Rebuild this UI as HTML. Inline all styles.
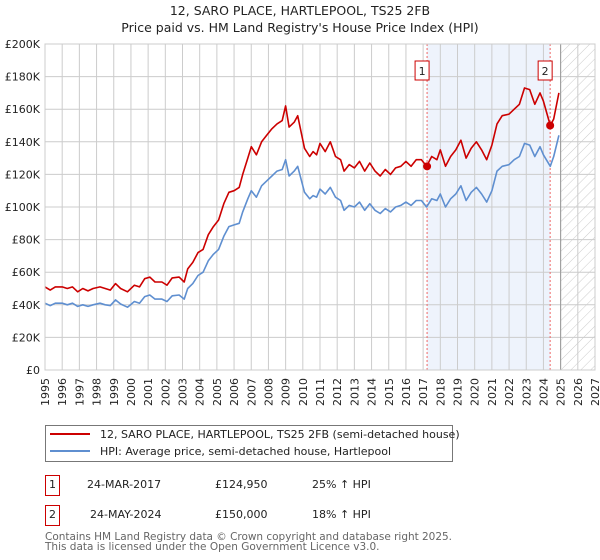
<!DOCTYPE html>
<html><head><meta charset="utf-8"><style>
body{margin:0;background:#fff;}
svg{display:block;font-family:"DejaVu Sans","Liberation Sans",sans-serif;}
</style></head><body>
<svg id="chart" width="600" height="560" viewBox="0 0 600 560" xmlns="http://www.w3.org/2000/svg">
<defs>
<pattern id="hatch" patternUnits="userSpaceOnUse" width="7" height="7" patternTransform="rotate(45)"><line x1="0" y1="0" x2="0" y2="7" stroke="#ccc" stroke-width="1"/></pattern>
</defs>
<text x="300" y="15" text-anchor="middle" font-size="12.5" fill="#222">12, SARO PLACE, HARTLEPOOL, TS25 2FB</text>
<text x="300" y="32" text-anchor="middle" font-size="12.5" fill="#222">Price paid vs. HM Land Registry's House Price Index (HPI)</text>
<g id="plot"></g>
<g>
<rect x="45.5" y="425.5" width="407" height="36" fill="#fff" stroke="#777"/>
<line x1="50" y1="434" x2="90" y2="434" stroke="#cc0000" stroke-width="2"/>
<text x="100" y="438" font-size="11" fill="#222">12, SARO PLACE, HARTLEPOOL, TS25 2FB (semi-detached house)</text>
<line x1="50" y1="451" x2="90" y2="451" stroke="#5f8fd0" stroke-width="2"/>
<text x="100" y="455" font-size="11" fill="#222">HPI: Average price, semi-detached house, Hartlepool</text>
</g>
<g font-size="11" fill="#222">
<rect x="45.5" y="475.5" width="14" height="20" fill="#fff" stroke="#cc0000"/>
<text x="52.5" y="488" text-anchor="middle">1</text>
<text x="87" y="488">24-MAR-2017</text>
<text x="215" y="488">£124,950</text>
<text x="312" y="488">25% ↑ HPI</text>
<rect x="45.5" y="505.5" width="14" height="20" fill="#fff" stroke="#cc0000"/>
<text x="52.5" y="518" text-anchor="middle">2</text>
<text x="90" y="518">24-MAY-2024</text>
<text x="215" y="518">£150,000</text>
<text x="312" y="518">18% ↑ HPI</text>
</g>
<text x="45" y="540" font-size="10.5" fill="#666" textLength="407">Contains HM Land Registry data © Crown copyright and database right 2025.</text>
<text x="45" y="550" font-size="10.5" fill="#666">This data is licensed under the Open Government Licence v3.0.</text>
</svg>
<script>
const years=[1995.0,1995.3,1995.6,1996.0,1996.3,1996.6,1996.9,1997.2,1997.5,1997.8,1998.2,1998.5,1998.8,1999.1,1999.4,1999.8,2000.2,2000.5,2000.8,2001.1,2001.4,2001.8,2002.1,2002.4,2002.8,2003.1,2003.3,2003.6,2003.9,2004.2,2004.5,2004.8,2005.1,2005.4,2005.7,2006.0,2006.3,2006.5,2006.8,2007.0,2007.3,2007.6,2007.9,2008.2,2008.5,2008.8,2009.0,2009.2,2009.5,2009.7,2009.9,2010.1,2010.4,2010.6,2010.8,2011.0,2011.3,2011.6,2011.9,2012.2,2012.4,2012.7,2013.0,2013.3,2013.6,2013.9,2014.2,2014.5,2014.8,2015.1,2015.4,2015.7,2016.0,2016.3,2016.6,2016.9,2017.2,2017.5,2017.8,2018.0,2018.3,2018.6,2018.9,2019.2,2019.5,2019.8,2020.1,2020.4,2020.7,2021.0,2021.3,2021.6,2022.0,2022.3,2022.6,2022.9,2023.2,2023.5,2023.8,2024.0,2024.4,2024.6,2024.9];
const hpi=[41,39.5,41,41,40,41,39,40,39,40,41,40,39.5,43,40.5,38.5,42,41,45,46,43.5,43.5,42,45.5,46,43.5,50,53,58,60,67,71,74,82,88,89,90,97,105,110,106,113,116,119,122,123,129,119,122,125,117,109,105,107,106,111,108,112,106,104,98,101,100,103,98,102,98,96,99,97,100,101,103,101,104,104,100,105,104,108,100,105,108,113,104,109,112,108,103,110,122,125,126,129,131,139,138,131,137,132,125,131,144];
const price=[51,49,51,51,50,51,48,50,48.5,50,51,50,49,53,50,48,52,51,56,57,54,54,52,56.5,57,54,62,66,72,74,83,88,92,102,109,110,112,120,130,137,132,140,144,148,151,153,162,149,152,156,146,136,131,134,132,139,134,140,131,129,122,126,124,128,122,127,122,119,123,120,124,125,128,125,129,129,125,131,129,135,125,131,135,141,130,136,140,135,129,138,151,156,157,160,163,173,172,163,170,165,150,154,170];
const yTicks=[0,20,40,60,80,100,120,140,160,180,200];
const xTicks=[1995,1996,1997,1998,1999,2000,2001,2002,2003,2004,2005,2006,2007,2008,2009,2010,2011,2012,2013,2014,2015,2016,2017,2018,2019,2020,2021,2022,2023,2024,2025,2026,2027];
const saleYears=[2017.23,2024.39];
const salePrices=[124.95,150];
const saleLabels=["1","2"];
const dataEnd=2025.0;
const L=45,R=595,T=44,B=370;
const X=y=>L+(y-1995)/(2027-1995)*(R-L);
const Y=v=>B-v/200*(B-T);
const NS="http://www.w3.org/2000/svg";
const g=document.getElementById('plot');
function mk(tag,attrs,parent){const e=document.createElementNS(NS,tag);for(const k in attrs)e.setAttribute(k,attrs[k]);(parent||g).appendChild(e);return e;}
let sh=mk('rect',{x:X(saleYears[0]),y:T,width:X(saleYears[1])-X(saleYears[0]),height:B-T,fill:'#eef3fc'});


let hz=mk('rect',{x:X(dataEnd),y:T,width:R-X(dataEnd),height:B-T,fill:'url(#hatch)'});


xTicks.forEach(t=>{
 const l=mk('line',{x1:X(t),x2:X(t),y1:T,y2:B,stroke:'#ccc','stroke-width':1});
 
 
 const xx=X(t)+4,yy=378;
 const tx=mk('text',{x:xx,y:yy,'text-anchor':'end','font-size':11,fill:'#222',transform:`rotate(-90 ${xx} ${yy})`});
 tx.textContent=t;
 
 
});
yTicks.forEach(t=>{
 const l=mk('line',{x1:L,x2:R,y1:Y(t),y2:Y(t),stroke:'#ccc','stroke-width':1});
 
 
 const tx=mk('text',{x:40,y:Y(t)+4,'text-anchor':'end','font-size':11,fill:'#222'});
 tx.textContent=t===0?'£0':'£'+t+'K';
 
 
});
let el=mk('line',{x1:X(dataEnd),x2:X(dataEnd),y1:T,y2:B,stroke:'#999','stroke-width':1});


saleYears.forEach((s,i)=>{
 const l=mk('line',{x1:X(s),x2:X(s),y1:T,y2:B,stroke:'#e66','stroke-width':1,'stroke-dasharray':'2,2'});
 
 
});
function path(arr,color,name){
 const d=arr.map((v,i)=>(i?'L':'M')+X(years[i]).toFixed(1)+','+Y(v).toFixed(1)).join('');
 const p=mk('path',{d:d,fill:'none',stroke:color,'stroke-width':1.6,'stroke-linejoin':'round'});
 
 
}
path(hpi,'#5f8fd0','hpi-line');
path(price,'#cc0000','price-line');
saleYears.forEach((s,i)=>{
 const c=mk('circle',{cx:X(s),cy:Y(salePrices[i]),r:4,fill:'#cc0000'});
 
 
 const bx=X(s)-5;
 const r=mk('rect',{x:bx-7,y:61,width:14,height:19,fill:'#fff',stroke:'#cc0000'});
 
 
 const t=mk('text',{x:bx,y:75,'text-anchor':'middle','font-size':11,fill:'#222'});
 t.textContent=saleLabels[i];
 
 
});
let fr=mk('rect',{x:L,y:T,width:R-L,height:B-T,fill:'none',stroke:'#ccc'});


</script>
</body></html>
